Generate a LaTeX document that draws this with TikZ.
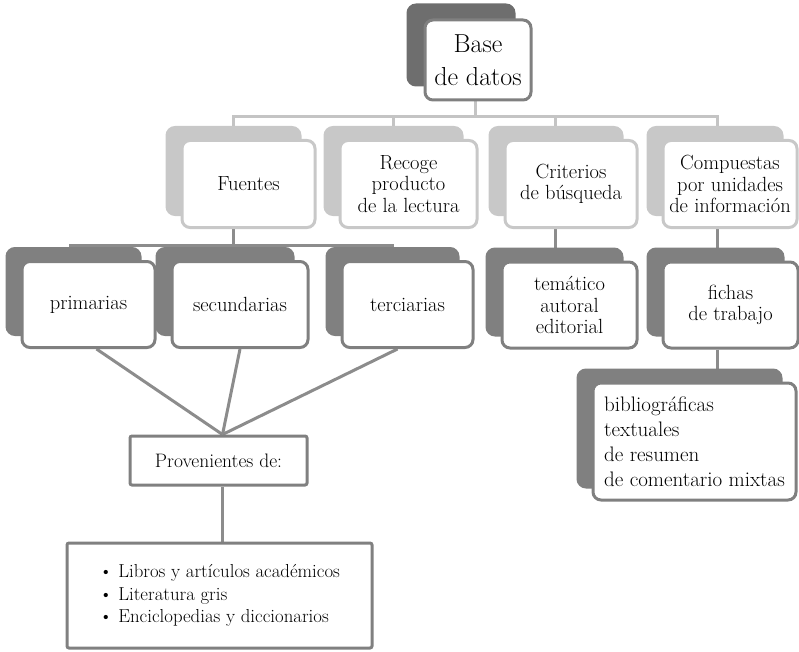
\documentclass[tikz,border=0pt]{standalone}
\usetikzlibrary{shadows,backgrounds,calc}
\definecolor{dkshadow}{HTML}{6E6E6E}
\definecolor{dkgray}{HTML}{808080}
\definecolor{ltgray}{HTML}{C8C8C8}
\definecolor{midline}{HTML}{8C8C8C}
\definecolor{ltline}{HTML}{C4C4C4}
\begin{document}
\begin{tikzpicture}[x=1pt,y=-1pt,
  box/.style={fill=white, line width=3pt, rounded corners=8pt, inner sep=0pt, align=center,
    font=\fontsize{20.5}{21.5}\selectfont},
  lightbox/.style={box, draw=ltgray, minimum height=87pt,
    copy shadow={shadow xshift=-15pt, shadow yshift=13pt, fill=ltgray, draw=ltgray}},
  darkbox/.style={box, draw=dkgray, minimum height=86pt,
    copy shadow={shadow xshift=-15pt, shadow yshift=13pt, fill=dkgray, draw=dkgray}},
  basebox/.style={box, draw=dkgray, minimum width=106pt, minimum height=80pt,
    font=\fontsize{26}{33}\selectfont,
    copy shadow={shadow xshift=-17pt, shadow yshift=15pt, fill=dkshadow, draw=dkshadow}},
  plainbox/.style={fill=white, draw=dkgray, line width=3pt, rounded corners=2pt, inner sep=0pt,
    font=\fontsize{19.5}{21.5}\selectfont},
  toplink/.style={draw=ltline, line width=3pt},
  midlink/.style={draw=midline, line width=3pt}
]
\useasboundingbox (0,0) rectangle (799,652);

\node[basebox] (base) at (478,60) {Base\\de datos};

\node[lightbox, minimum width=133pt] (fuentes) at (248.5,184) {Fuentes};
\node[lightbox, minimum width=137pt] (recoge) at (408.5,184) {Recoge\\producto\\de la lectura};
\node[lightbox, minimum width=132pt] (criterios) at (571,184) {Criterios\\de búsqueda};
\node[lightbox, minimum width=134pt] (compuestas) at (730,184) {Compuestas\\por unidades\\de información};

\node[darkbox, minimum width=133pt] (prim) at (88.5,304.5) {primarias};
\node[darkbox, minimum width=136pt] (sec) at (240,304.5) {secundarias};
\node[darkbox, minimum width=131pt] (ter) at (407.5,304.5) {terciarias};
\node[darkbox, minimum width=135pt] (tem) at (569.5,305) {temático\\autoral\\editorial};
\node[darkbox, minimum width=135pt] (fichas) at (730.5,305) {fichas\\de trabajo};
\node[darkbox, minimum width=203pt, minimum height=117pt, align=left,
  font=\fontsize{21}{25}\selectfont] (biblio) at (694.5,441.5)
  {bibliográficas\\textuales\\de resumen\\de comentario mixtas};

\node[plainbox, minimum width=177pt, minimum height=49pt] (prov) at (218.5,460.5) {Provenientes de:};
\node[plainbox, minimum width=305pt, minimum height=105pt, align=left,
  font=\fontsize{18.8}{22.5}\selectfont] (list) at (219.5,595.5)
  {\textbullet\ Libros y artículos académicos\\\textbullet\ Literatura gris\\\textbullet\ Enciclopedias y diccionarios};

\coordinate (fN) at ([xshift=-15pt]fuentes.north);
\coordinate (rN) at ([xshift=-15pt]recoge.north);
\coordinate (cN) at ([xshift=-16pt]criterios.north);
\coordinate (kN) at ([xshift=-13pt]compuestas.north);
\coordinate (fS) at ([xshift=-15pt]fuentes.south);
\coordinate (cS) at ([xshift=-16pt]criterios.south);
\coordinate (kS) at ([xshift=-13pt]fichas.south);
\coordinate (kT) at ([xshift=-13pt]compuestas.south);
\coordinate (pN) at ([xshift=4pt]prov.north);
\coordinate (pS) at ([xshift=4pt]prov.south);

\begin{scope}[on background layer]
  \draw[toplink] ([xshift=-3pt]base.south) -- ++(0,15) coordinate (b1);
  \draw[toplink] (b1) -| (fN);
  \draw[toplink] (b1) -| (rN);
  \draw[toplink] (b1) -| (cN);
  \draw[toplink] (b1) -| (kN);
  \draw[midlink] (fS) -- ++(0,16) coordinate (b2);
  \draw[midlink] (b2) -| ([xshift=-18pt]prim.north);
  \draw[midlink] (b2) -| ([xshift=-15pt]sec.north);
  \draw[midlink] (b2) -| ([xshift=-15pt]ter.north);
  \draw[midlink] (cS) -- (cS |- tem.north);
  \draw[midlink] (kT) -- (kT |- fichas.north);
  \draw[midlink] (kS) -- (kS |- biblio.north);
  \draw[midlink] ([xshift=8pt]prim.south) -- (pN);
  \draw[midlink] (sec.south) -- (pN);
  \draw[midlink] ([xshift=-10pt]ter.south) -- (pN);
  \draw[midlink] (pS) -- (pS |- list.north);
\end{scope}
\end{tikzpicture}
\end{document}
